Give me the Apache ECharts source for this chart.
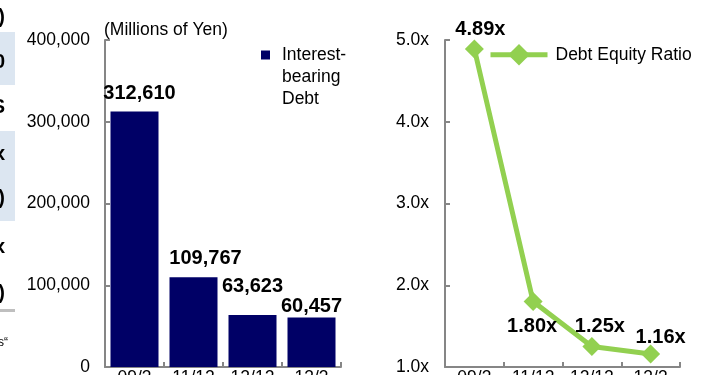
<!DOCTYPE html>
<html>
<head>
<meta charset="utf-8">
<script src="https://cdn.jsdelivr.net/npm/echarts@6/dist/echarts.min.js"></script>
<style>
  html, body { margin: 0; padding: 0; background: #ffffff; }
  #chart { width: 723px; height: 375px; }
</style>
</head>
<body>
<div id="chart"></div>
<script>
// Fiscal period labels shared by both panels
const periods = ['09/3', '11/12', '12/12', '13/3'];
// Interest-bearing debt, millions of yen
const debtValues = [312610, 109767, 63623, 60457];
// Debt equity ratio (times)
const ratioValues = [4.89, 1.80, 1.25, 1.16];
// Value-axis ranges
const debtAxisRange = [0, 400000];
const debtAxisStep = 100000;
const ratioAxisRange = [1, 5];
const ratioAxisStep = 1;

const FONT = "'Liberation Sans', Arial, sans-serif";
const AXIS_GREY = '#868686';
const NAVY = '#000066';
const GREEN = '#92D050';

// label nudges so the value texts sit where the layout wants them
const barLabelOffsets = [[5, -8], [12, -9], [0, -19], [0, -1]];
const lineLabelOffsets = [[6, -20], [-1, 25], [8, -20], [10, -16]];

const axisLineStyle = { lineStyle: { color: AXIS_GREY, width: 2 } };
const axisTickStyle = { show: true, inside: true, length: 5, lineStyle: { color: AXIS_GREY, width: 2 } };

function categoryAxis(gridIndex) {
  return {
    type: 'category', gridIndex: gridIndex, data: periods,
    axisLine: axisLineStyle,
    axisTick: Object.assign({ alignWithLabel: false }, axisTickStyle),
    axisLabel: { margin: 2, color: '#000', fontFamily: FONT, fontSize: 17.5 },
    splitLine: { show: false }
  };
}

// cropped neighbouring table at the far left edge
const stripGlyphs = [[')', 17], ['0', 62], ['S', 107], ['x', 154], [')', 198], ['x', 247], [')', 293]];
const stripGraphics = [
  { type: 'rect', shape: { x: 0, y: 32, width: 15, height: 53 }, style: { fill: '#dce6f1' } },
  { type: 'rect', shape: { x: 0, y: 131, width: 15, height: 90 }, style: { fill: '#dce6f1' } },
  { type: 'rect', shape: { x: 0, y: 309, width: 15, height: 3 }, style: { fill: '#bfbfbf' } },
  { type: 'text', x: 8, y: 343, style: { text: 's\u201C', align: 'right', verticalAlign: 'middle', font: '12px ' + FONT, fill: '#000' } }
].concat(stripGlyphs.map(function (g) {
  return { type: 'text', x: 5, y: g[1], style: { text: g[0], align: 'right', verticalAlign: 'middle', font: 'bold 20px ' + FONT, fill: '#000' } };
}));

const option = {
  animation: false,
  backgroundColor: '#ffffff',
  textStyle: { fontFamily: FONT },
  title: {
    text: '(Millions of Yen)', left: 104, top: 21, padding: 0,
    textStyle: { fontFamily: FONT, fontSize: 17.5, fontWeight: 'normal', color: '#000' }
  },
  legend: [
    {
      data: ['Interest-bearing Debt'], left: 261, top: 0, padding: 0,
      icon: 'rect', itemWidth: 9, itemHeight: 9,
      // two blank lead lines keep the first text line level with the square
      formatter: function () { return '\n\nInterest-\nbearing\nDebt'; },
      textStyle: { fontFamily: FONT, fontSize: 17.5, lineHeight: 22, color: '#000', padding: [0, 0, 0, 7] }
    },
    {
      data: ['Debt Equity Ratio'], left: 488, top: 44, padding: 0,
      itemWidth: 57, itemHeight: 27,
      lineStyle: { width: 5, color: GREEN },
      textStyle: { fontFamily: FONT, fontSize: 17.5, color: '#000', padding: [0, 0, 0, 3] }
    }
  ],
  grid: [
    { left: 105, top: 40, width: 236, height: 327, outerBoundsMode: 'none', containLabel: false },
    { left: 445, top: 40, width: 235, height: 327, outerBoundsMode: 'none', containLabel: false }
  ],
  xAxis: [categoryAxis(0), categoryAxis(1)],
  yAxis: [
    {
      type: 'value', gridIndex: 0, min: debtAxisRange[0], max: debtAxisRange[1], interval: debtAxisStep,
      axisLine: Object.assign({ show: true }, axisLineStyle), axisTick: axisTickStyle,
      splitLine: { show: false },
      axisLabel: { margin: 15, color: '#000', fontFamily: FONT, fontSize: 17.5,
        formatter: function (v) { return v.toLocaleString('en-US'); } }
    },
    {
      type: 'value', gridIndex: 1, min: ratioAxisRange[0], max: ratioAxisRange[1], interval: ratioAxisStep,
      axisLine: Object.assign({ show: true }, axisLineStyle), axisTick: axisTickStyle,
      splitLine: { show: false },
      axisLabel: { margin: 16, color: '#000', fontFamily: FONT, fontSize: 17.5,
        formatter: function (v) { return v.toFixed(1) + 'x'; } }
    }
  ],
  series: [
    {
      name: 'Interest-bearing Debt', type: 'bar', xAxisIndex: 0, yAxisIndex: 0,
      barWidth: 48,
      itemStyle: { color: NAVY },
      data: debtValues.map(function (v, i) {
        return { value: v, label: { offset: barLabelOffsets[i] } };
      }),
      label: {
        show: true, position: 'top', distance: 0, color: '#000',
        fontFamily: FONT, fontSize: 20, fontWeight: 'bold',
        formatter: function (p) { return p.value.toLocaleString('en-US'); }
      }
    },
    {
      name: 'Debt Equity Ratio', type: 'line', xAxisIndex: 1, yAxisIndex: 1,
      symbol: 'diamond', symbolSize: 19,
      lineStyle: { color: GREEN, width: 5 },
      itemStyle: { color: GREEN },
      data: ratioValues.map(function (v, i) {
        return { value: v, label: { offset: lineLabelOffsets[i] } };
      }),
      label: {
        show: true, position: 'inside', color: '#000',
        fontFamily: FONT, fontSize: 20, fontWeight: 'bold',
        formatter: function (p) { return p.value.toFixed(2) + 'x'; }
      }
    }
  ],
  graphic: stripGraphics
};

const chart = echarts.init(document.getElementById('chart'), null, { renderer: 'canvas' });
chart.setOption(option);
</script>
</body>
</html>
